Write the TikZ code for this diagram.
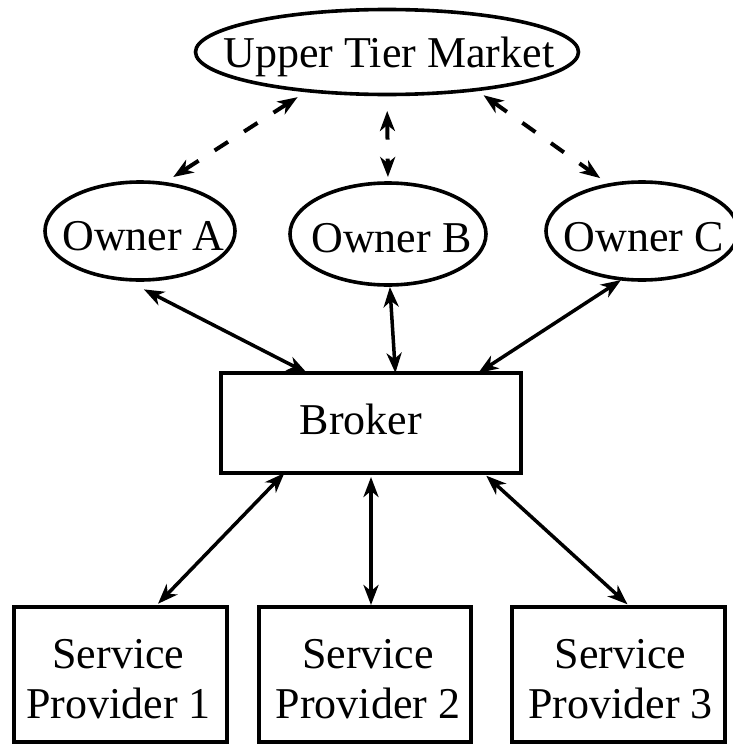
\documentclass[tikz,border=0pt]{standalone}
\usepackage{fontspec}
\setmainfont{Liberation Serif}
\usetikzlibrary{shapes.geometric,arrows.meta}
\begin{document}
\begin{tikzpicture}[x=1pt,y=-1pt,
  lbl/.style={inner sep=0pt, text depth=0pt, align=center, font=\fontsize{44}{50}\selectfont},
  ellnode/.style={ellipse, draw, line width=3.6pt, inner sep=0pt, outer sep=0pt},
  boxnode/.style={rectangle, draw, line width=3.8pt, inner sep=0pt, outer sep=0pt},
  link/.style={line width=3.5pt, {Stealth[length=20pt,width=15pt,inset=6pt]}-{Stealth[length=20pt,width=15pt,inset=6pt]}},
  tierlink/.style={link, line width=4pt, dash pattern=on 16pt off 19pt}
]
\useasboundingbox (0,0) rectangle (733,744);

% market and owners
\node[ellnode, minimum width=383pt, minimum height=85pt,
      label={[lbl, xshift=2pt]center:Upper Tier Market}] (up) at (387,52) {};
\node[ellnode, minimum width=190pt, minimum height=98pt,
      label={[lbl, xshift=3.5pt, yshift=-4.5pt]center:Owner A}] (oa) at (140,231) {};
\node[ellnode, minimum width=196pt, minimum height=102pt,
      label={[lbl, xshift=3.5pt, yshift=-3.5pt]center:Owner B}] (ob) at (388,234) {};
\node[ellnode, minimum width=192pt, minimum height=98pt,
      label={[lbl, xshift=1.5pt, yshift=-6pt]center:Owner C}] (oc) at (642,231) {};

% broker and providers
\node[boxnode, minimum width=300pt, minimum height=100pt,
      label={[lbl, xshift=-10pt, yshift=3.5pt]center:Broker}] (br) at (371,423) {};
\node[boxnode, minimum width=213pt, minimum height=135pt,
      label={[lbl, xshift=-2pt, yshift=-4pt]center:Service\\Provider 1}] (sp1) at (120.5,674.5) {};
\node[boxnode, minimum width=212pt, minimum height=135pt,
      label={[lbl, xshift=3pt, yshift=-4pt]center:Service\\Provider 2}] (sp2) at (365,674.5) {};
\node[boxnode, minimum width=213pt, minimum height=135pt,
      label={[lbl, xshift=2pt, yshift=-4pt]center:Service\\Provider 3}] (sp3) at (618.5,674.5) {};

% market <-> owners
\draw[tierlink, shorten <=12pt, shorten >=12pt] (up.206) -- (oa.64);
\draw[tierlink, shorten <=16.5pt, shorten >=6pt] (up.south) -- (ob.north);
\draw[tierlink, shorten <=9.6pt, shorten >=11.7pt] (up.337.7) -- (oc.125.2);

% owners <-> broker
\draw[link, shorten <=22pt] (oa.252.2) -- (br.142.9);
\draw[link, shorten <=2pt] (ob.272) -- (br.64.4);
\draw[link, shorten <=2pt] (oc.248.6) -- (br.25.7);

% broker <-> providers
\draw[link, shorten >=4.5pt] (br.210.2) -- (sp1.63.6);
\draw[link, shorten <=4pt, shorten >=2pt] (br.south) -- (br.south |- sp2.north);
\draw[link, shorten <=4pt, shorten >=4pt] (br.336.4) -- (sp3.80.1);
\end{tikzpicture}
\end{document}
